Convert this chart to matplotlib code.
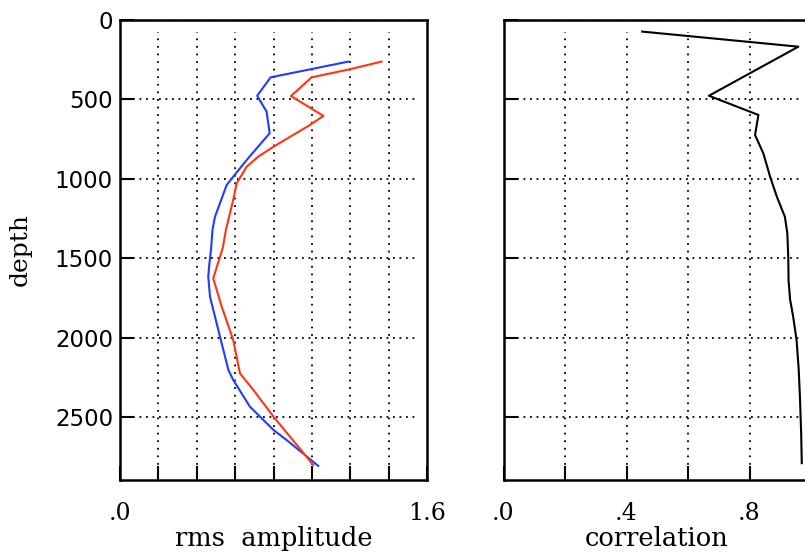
import matplotlib
matplotlib.use("Agg")
import matplotlib.pyplot as plt
import numpy as np

# rms amplitude profiles (depth, value)
blue_depth = [262, 361, 477, 577, 713, 882, 987, 1039, 1239, 1322, 1438, 1532, 1616, 1742, 1994, 2204, 2267, 2435, 2582, 2645, 2808]
blue_amp   = [1.19, 0.785, 0.715, 0.764, 0.78, 0.66, 0.59, 0.556, 0.495, 0.482, 0.475, 0.466, 0.46, 0.469, 0.521, 0.565, 0.59, 0.677, 0.8, 0.868, 1.033]

red_depth = [262, 310, 361, 479, 604, 661, 798, 861, 924, 1029, 1133, 1322, 1438, 1627, 1805, 2015, 2225, 2330, 2498, 2802]
red_amp   = [1.363, 1.199, 0.999, 0.891, 1.06, 0.99, 0.8, 0.72, 0.66, 0.608, 0.59, 0.552, 0.535, 0.486, 0.53, 0.59, 0.625, 0.695, 0.8, 1.007]

corr_depth = [73, 168, 477, 598, 724, 840, 987, 1113, 1239, 1343, 1490, 1640, 1760, 1868, 2015, 2200, 2372, 2600, 2791]
corr_val   = [0.451, 0.959, 0.668, 0.829, 0.818, 0.845, 0.867, 0.889, 0.915, 0.923, 0.926, 0.927, 0.932, 0.942, 0.953, 0.96, 0.964, 0.968, 0.97]

depth_ticks = [0, 500, 1000, 1500, 2000, 2500]
amp_labels = {0.0: ".0", 1.6: "1.6"}
corr_labels = {0.0: ".0", 0.4: ".4", 0.8: ".8"}

plt.rcParams['font.family'] = ['DejaVu Serif']
W, H = 805, 554
fig = plt.figure(figsize=(W/100, H/100), dpi=100)

def ax_rect(x0, x1, y0, y1):
    return [x0/W, 1 - y1/H, (x1-x0)/W, (y1-y0)/H]

ax1 = fig.add_axes(ax_rect(120, 427, 20, 480))
ax2 = fig.add_axes(ax_rect(503.5, 811, 20, 480))

ymax = 2897
for ax, xmax, labels in [(ax1, 1.6, amp_labels), (ax2, 1.0, corr_labels)]:
    ax.set_ylim(ymax, 0)
    ax.set_xlim(0, xmax)
    ticks = np.round(np.arange(0, xmax + 1e-9, 0.2), 1)
    ax.set_xticks(ticks)
    ax.set_xticklabels([labels.get(float(t), "") for t in ticks])
    ax.set_yticks(depth_ticks)
    for t in ticks[1:-1] if xmax > 1.0 else ticks[1:]:
        ax.axvline(t, ymin=0.0, ymax=0.975, color='black', linestyle=(0, (1, 3.2)), linewidth=1.3, zorder=1)
    for d in depth_ticks[1:]:
        ax.axhline(d, xmin=0.0, xmax=0.965, color='black', linestyle=(0, (1, 2.6)), linewidth=1.3, zorder=1)
    ax.axhline(0, color='black', linestyle=(0, (2, 1.5)), linewidth=1.0, zorder=4, clip_on=False)
    ax.tick_params(direction='in', length=10, width=1.5, pad=16)
    ax.tick_params(axis='x', labelsize=17)
    for s in ax.spines.values():
        s.set_linewidth(1.8)

ax1.set_yticklabels([str(d) for d in depth_ticks], family='DejaVu Sans', fontsize=16.5)
ax2.set_yticklabels([])
ax1.tick_params(axis='y', pad=5)

ax1.plot(blue_amp, blue_depth, color='#1f3cff', linewidth=1.5, zorder=3)
ax1.plot(red_amp, red_depth, color='#ff3510', linewidth=1.5, zorder=3)
ax2.plot(corr_val, corr_depth, color='black', linewidth=1.5, zorder=3)

ax1.set_xlabel('rms  amplitude', fontsize=18.5)
ax2.set_xlabel('correlation', fontsize=18.5)
ax1.xaxis.set_label_coords(0.5, -0.10)
ax2.xaxis.set_label_coords((657 - 503.5) / 307.5, -0.10)
ax1.set_ylabel('depth', fontsize=18)
ax1.yaxis.set_label_coords(-88/307, 0.5)

fig.savefig('out.png', dpi=100)
